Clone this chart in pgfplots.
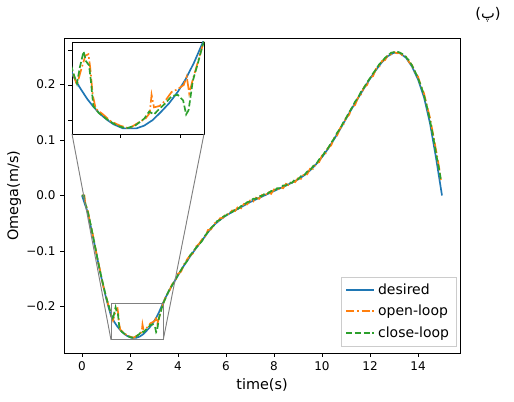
\documentclass[border=0pt]{standalone}
\usepackage{fontspec}
\setmainfont{DejaVu Sans}
\newfontfamily\arabicfont[Script=Arabic]{DejaVu Sans}
\usepackage{pgfplots}
\usepackage{pgfplotstable}
\pgfplotsset{compat=1.18}
\definecolor{mblue}{HTML}{1F77B4}
\definecolor{morange}{HTML}{FF7F0E}
\definecolor{mgreen}{HTML}{2CA02C}

\pgfplotstableread{
t y
0.00 0.000
0.25 -0.032
0.50 -0.083
0.75 -0.137
1.00 -0.184
1.10 -0.200
1.22 -0.218
1.34 -0.227
1.46 -0.235
1.57 -0.241
1.68 -0.246
1.79 -0.250
1.89 -0.253
2.05 -0.256
2.27 -0.256
2.40 -0.254
2.54 -0.250
2.68 -0.244
2.81 -0.238
2.95 -0.230
3.08 -0.221
3.22 -0.209
3.35 -0.196
3.50 -0.182
3.75 -0.162
4.00 -0.144
4.25 -0.126
4.50 -0.110
4.75 -0.095
5.00 -0.081
5.25 -0.066
5.50 -0.053
5.75 -0.044
6.00 -0.036
6.25 -0.030
6.50 -0.024
6.75 -0.018
7.00 -0.012
7.25 -0.007
7.50 -0.002
7.75 0.003
8.00 0.008
8.25 0.013
8.50 0.018
8.75 0.023
9.00 0.029
9.25 0.036
9.50 0.045
9.75 0.056
10.00 0.069
10.25 0.084
10.50 0.101
10.75 0.119
11.00 0.138
11.25 0.157
11.50 0.175
11.75 0.193
12.00 0.210
12.25 0.226
12.50 0.240
12.75 0.251
13.00 0.257
13.25 0.256
13.50 0.248
13.75 0.232
14.00 0.209
14.25 0.177
14.50 0.130
14.75 0.068
15.00 0.000
}\desired

\pgfplotstableread{
t y
0.00 0.000
0.10 0.000
0.13 -0.012
0.25 -0.029
0.38 -0.058
0.50 -0.080
0.63 -0.112
0.75 -0.134
0.88 -0.162
1.00 -0.181
1.10 -0.198
1.22 -0.216
1.29 -0.225
1.36 -0.214
1.43 -0.204
1.48 -0.203
1.51 -0.213
1.55 -0.232
1.60 -0.242
1.72 -0.246
1.85 -0.251
2.00 -0.254
2.15 -0.256
2.30 -0.252
2.42 -0.249
2.49 -0.245
2.52 -0.232
2.56 -0.241
2.65 -0.240
2.75 -0.236
2.85 -0.230
2.95 -0.228
3.05 -0.225
3.10 -0.219
3.14 -0.231
3.20 -0.221
3.28 -0.209
3.36 -0.197
3.50 -0.181
3.62 -0.174
3.75 -0.160
3.88 -0.155
4.00 -0.141
4.13 -0.137
4.25 -0.124
4.38 -0.115
4.50 -0.108
4.63 -0.104
4.75 -0.092
4.88 -0.087
5.00 -0.079
5.13 -0.074
5.25 -0.062
5.38 -0.061
5.50 -0.050
5.63 -0.049
5.75 -0.041
5.88 -0.040
6.00 -0.033
6.13 -0.034
6.25 -0.027
6.38 -0.028
6.50 -0.020
6.63 -0.023
6.75 -0.015
6.88 -0.016
7.00 -0.009
7.13 -0.011
7.25 -0.004
7.38 -0.006
7.50 0.001
7.63 -0.001
7.75 0.007
7.88 0.003
8.00 0.011
8.13 0.009
8.25 0.015
8.38 0.013
8.50 0.021
8.63 0.018
8.75 0.026
8.88 0.024
9.00 0.031
9.13 0.030
9.25 0.039
9.38 0.038
9.50 0.048
9.63 0.048
9.75 0.058
9.88 0.060
10.00 0.072
10.13 0.074
10.25 0.086
10.38 0.090
10.50 0.103
10.63 0.108
10.75 0.121
10.88 0.126
11.00 0.140
11.13 0.145
11.25 0.159
11.38 0.163
11.50 0.176
11.63 0.182
11.75 0.195
11.88 0.199
12.00 0.212
12.13 0.215
12.25 0.228
12.38 0.231
12.50 0.242
12.63 0.244
12.75 0.253
12.88 0.254
13.00 0.258
13.13 0.256
13.25 0.257
13.38 0.251
13.50 0.250
13.63 0.240
13.75 0.235
13.88 0.221
14.00 0.214
14.13 0.196
14.25 0.184
14.38 0.160
14.50 0.140
14.63 0.110
14.75 0.082
14.88 0.050
14.95 0.028
}\openloop

\pgfplotstableread{
t y
0.00 0.000
0.08 0.000
0.11 -0.010
0.25 -0.031
0.38 -0.056
0.50 -0.082
0.63 -0.110
0.75 -0.136
0.88 -0.160
1.00 -0.182
1.10 -0.196
1.22 -0.215
1.29 -0.224
1.34 -0.212
1.40 -0.201
1.44 -0.208
1.49 -0.211
1.52 -0.222
1.56 -0.240
1.65 -0.245
1.80 -0.250
1.95 -0.254
2.10 -0.256
2.25 -0.254
2.40 -0.249
2.48 -0.244
2.56 -0.246
2.65 -0.242
2.75 -0.238
2.85 -0.233
2.95 -0.232
3.04 -0.236
3.09 -0.246
3.13 -0.243
3.20 -0.222
3.28 -0.210
3.36 -0.197
3.50 -0.183
3.62 -0.171
3.75 -0.162
3.88 -0.152
4.00 -0.143
4.13 -0.134
4.25 -0.125
4.38 -0.118
4.50 -0.108
4.63 -0.101
4.75 -0.094
4.88 -0.088
5.00 -0.082
5.13 -0.072
5.25 -0.066
5.38 -0.058
5.50 -0.054
5.63 -0.046
5.75 -0.044
5.88 -0.038
6.00 -0.036
6.13 -0.031
6.25 -0.030
6.38 -0.025
6.50 -0.024
6.63 -0.019
6.75 -0.017
6.88 -0.012
7.00 -0.011
7.13 -0.006
7.25 -0.006
7.38 -0.001
7.50 -0.001
7.63 0.004
7.75 0.004
7.88 0.008
8.00 0.008
8.13 0.013
8.25 0.013
8.38 0.018
8.50 0.018
8.63 0.023
8.75 0.023
8.88 0.029
9.00 0.029
9.13 0.035
9.25 0.036
9.38 0.043
9.50 0.045
9.63 0.053
9.75 0.056
9.88 0.065
10.00 0.070
10.13 0.079
10.25 0.085
10.38 0.095
10.50 0.102
10.63 0.113
10.75 0.120
10.88 0.131
11.00 0.139
11.13 0.150
11.25 0.158
11.38 0.169
11.50 0.176
11.63 0.187
11.75 0.194
11.88 0.204
12.00 0.211
12.13 0.220
12.25 0.227
12.38 0.236
12.50 0.241
12.63 0.248
12.75 0.252
12.88 0.257
13.00 0.258
13.13 0.259
13.25 0.257
13.38 0.254
13.50 0.249
13.63 0.243
13.75 0.234
13.88 0.223
14.00 0.211
14.13 0.197
14.25 0.180
14.38 0.159
14.50 0.135
14.63 0.107
14.75 0.076
14.88 0.047
14.95 0.030
}\closeloop

\begin{document}
\begin{tikzpicture}
\pgfplotsset{every axis/.append style={font=\fontsize{9}{11}\selectfont}}
\begin{axis}[
  name=main,
  at={(0,0)}, anchor=south west,
  scale only axis, width=297pt, height=236.25pt,
  xmin=-0.75, xmax=15.75, ymin=-0.2835, ymax=0.2835,
  xtick={0,2,4,6,8,10,12,14},
  ytick={-0.2,-0.1,0,0.1,0.2},
  yticklabels={−0.2,−0.1,0.0,0.1,0.2},
  /pgf/number format/assume math mode=true,
  tick align=outside, xtick pos=left, ytick pos=left,
  major tick length=2.9pt,
  tick style={black, line width=0.6pt},
  axis line style={line width=0.7pt},
  xlabel={time(s)}, ylabel={Omega(m/s)},
  label style={font=\fontsize{10.8}{12}\selectfont},
  xlabel style={yshift=1pt},
  ylabel style={yshift=-3pt},
  legend cell align=left,
  legend style={at={(0.99,0.022)}, anchor=south east, draw=black!20,
    font=\fontsize{10.5}{12}\selectfont, row sep=2.6pt, inner sep=3pt},
]
\addplot[mblue, line width=1.25pt, forget plot] table[x=t,y=y] {\desired};
\addplot[morange, line width=1.25pt, dash pattern=on 8pt off 2pt on 1.25pt off 2pt, forget plot] table[x=t,y=y] {\openloop};
\addplot[mgreen, line width=1.25pt, dash pattern=on 4.6pt off 2pt, forget plot] table[x=t,y=y] {\closeloop};
\addlegendimage{legend image code/.code={\draw[mblue, line width=1.25pt] (0pt,0pt) -- (21pt,0pt);}}
\addlegendentry{desired}
\addlegendimage{legend image code/.code={\draw[morange, line width=1.6pt] (0pt,0pt) -- (6pt,0pt) (8pt,0pt) -- (9.6pt,0pt) (11.6pt,0pt) -- (17.6pt,0pt) (19.6pt,0pt) -- (21.2pt,0pt);}}
\addlegendentry{open-loop}
\addlegendimage{legend image code/.code={\draw[mgreen, line width=1.25pt] (0pt,0pt) -- (4.6pt,0pt) (6.6pt,0pt) -- (11.2pt,0pt) (13.2pt,0pt) -- (17.8pt,0pt) (19.8pt,0pt) -- (21pt,0pt);}}
\addlegendentry{close-loop}
\draw[black!50, line width=0.7pt] (axis cs:1.209,-0.26) rectangle (axis cs:3.384,-0.1943);
\coordinate (rbl) at (axis cs:1.209,-0.26);
\coordinate (rbr) at (axis cs:3.384,-0.26);
\end{axis}
\begin{axis}[
  name=inset,
  at={(6pt,164.25pt)}, anchor=south west,
  scale only axis, width=99pt, height=69pt,
  xmin=1.209, xmax=3.384, ymin=-0.26, ymax=-0.1943,
  xtick={2,3}, ytick={-0.25,-0.225,-0.2},
  xticklabels={}, yticklabels={},
  tick align=outside, xtick pos=left, ytick pos=left,
  major tick length=2.9pt,
  tick style={black, line width=0.6pt},
  axis line style={line width=0.7pt},
  axis background/.style={fill=white},
]
\addplot[mblue, line width=1.25pt] table[x=t,y=y] {\desired};
\addplot[morange, line width=1.25pt, dash pattern=on 8pt off 2pt on 1.25pt off 2pt] table[x=t,y=y] {\openloop};
\addplot[mgreen, line width=1.25pt, dash pattern=on 4.6pt off 2pt] table[x=t,y=y] {\closeloop};
\coordinate (isw) at (rel axis cs:0,0);
\coordinate (ise) at (rel axis cs:1,0);
\end{axis}
\draw[black!50, line width=0.7pt] (isw) -- (rbl) (ise) -- (rbr);
\node[font=\fontsize{11}{13}\selectfont, inner sep=0pt] at (318pt,253.5pt) {({\arabicfont پ})};
\pgfresetboundingbox
\path[use as bounding box] (-48pt,-36.75pt) rectangle (337.5pt,264.75pt);
\end{tikzpicture}
\end{document}
